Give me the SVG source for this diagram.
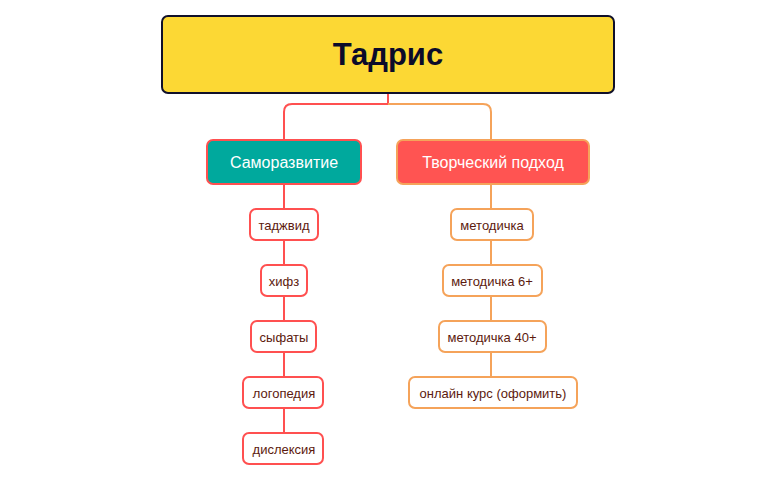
<svg xmlns="http://www.w3.org/2000/svg" width="775" height="480" viewBox="0 0 775 480">
<style>
text{font-family:"Liberation Sans",Arial,sans-serif;text-anchor:middle;dominant-baseline:central}
.l{fill:#fff;stroke:#FF5050;stroke-width:2}
.r{fill:#fff;stroke:#F5A35A;stroke-width:2}
.t{font-size:13px;fill:#5C1A0E}
.cl{fill:none;stroke:#FF5050;stroke-width:2}
.cr{fill:none;stroke:#F5A35A;stroke-width:2}
</style>
<rect width="775" height="480" fill="#fff"/>
<g id="connectors">
<path class="cl" d="M388 93V104H292Q284 104 284 112V140"/>
<path class="cr" d="M388 104H483Q491 104 491 112V140"/>
<path class="cl" d="M284 184V433"/>
<path class="cr" d="M491 184V377"/>
</g>
<g id="root"><rect x="162" y="16" width="452" height="77" rx="6" fill="#FCD834" stroke="#10102A" stroke-width="2"/><text x="388" y="54" style="font-size:31px;font-weight:bold;fill:#0B0B2A">Тадрис</text></g>
<g id="samorazvitie"><rect x="207" y="140" width="154" height="44" rx="6" fill="#00A99D" stroke="#FF5050" stroke-width="2"/><text x="284" y="162" style="font-size:16px;fill:#fff">Саморазвитие</text></g>
<g id="tvorcheskiy"><rect x="397" y="140" width="192" height="44" rx="6" fill="#FF5452" stroke="#F5A35A" stroke-width="2"/><text x="493" y="162" style="font-size:16px;fill:#fff">Творческий подход</text></g>
<g id="tadzhvid"><rect class="l" x="250" y="209" width="68" height="31" rx="6"/><text class="t" x="284" y="225">таджвид</text></g>
<g id="hifz"><rect class="l" x="261" y="265" width="46" height="31" rx="6"/><text class="t" x="284" y="281">хифз</text></g>
<g id="syfaty"><rect class="l" x="251" y="321" width="65" height="31" rx="6"/><text class="t" x="284" y="337">сыфаты</text></g>
<g id="logopediya"><rect class="l" x="243" y="377" width="80" height="31" rx="6"/><text class="t" x="284" y="393">логопедия</text></g>
<g id="disleksiya"><rect class="l" x="243" y="433" width="80" height="31" rx="6"/><text class="t" x="284" y="449">дислексия</text></g>
<g id="metodichka"><rect class="r" x="451" y="209" width="82" height="31" rx="6"/><text class="t" x="492" y="225">методичка</text></g>
<g id="metodichka6"><rect class="r" x="443" y="265" width="99" height="31" rx="6"/><text class="t" x="492" y="281">методичка 6+</text></g>
<g id="metodichka40"><rect class="r" x="439" y="321" width="107" height="31" rx="6"/><text class="t" x="492" y="337">методичка 40+</text></g>
<g id="onlayn"><rect class="r" x="409" y="377" width="168" height="31" rx="6"/><text class="t" x="493" y="393">онлайн курс (оформить)</text></g>
</svg>
